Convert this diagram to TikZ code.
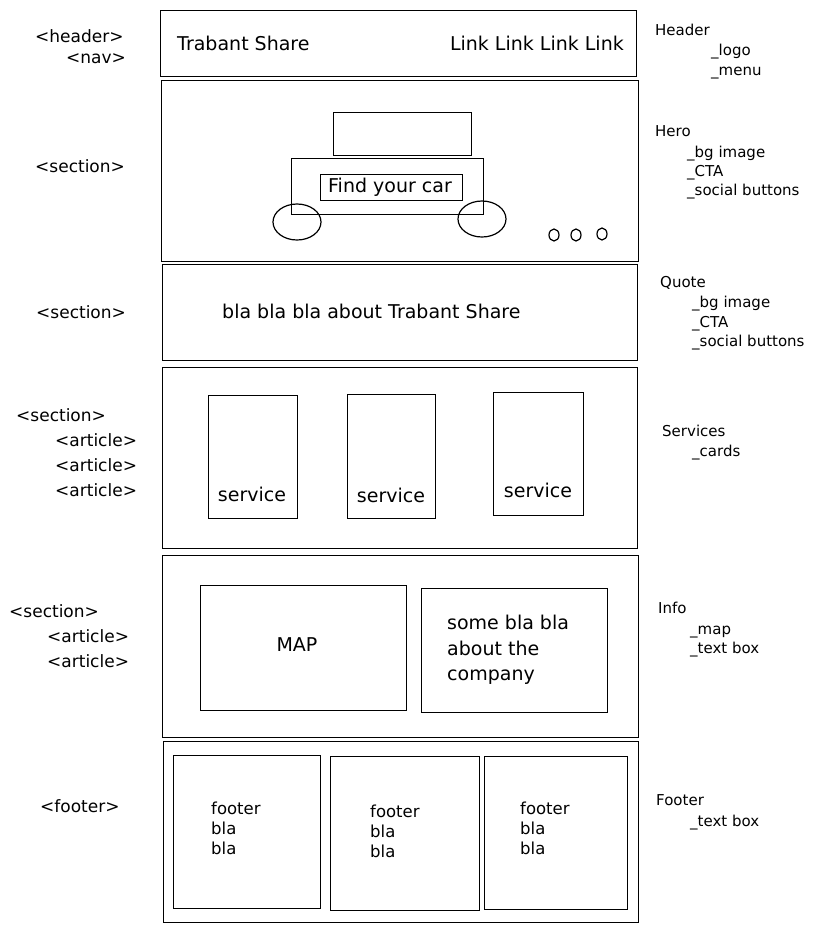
\documentclass[tikz,border=0pt]{standalone}
\usepackage{fontspec}
\setmainfont{DejaVu Sans}
\usetikzlibrary{shapes.geometric}
\begin{document}
\begin{tikzpicture}[x=1pt,y=-1pt,
  box/.style={draw, line width=1.2pt, inner sep=0pt, anchor=north west},
  big/.style={anchor=base west, inner sep=0pt, font=\fontsize{19}{23}\selectfont},
  tag/.style={anchor=base west, inner sep=0pt, font=\fontsize{17}{20}\selectfont},
  note/.style={anchor=base west, inner sep=0pt, font=\fontsize{15}{18}\selectfont},
  small/.style={anchor=base west, inner sep=0pt, font=\fontsize{16.5}{20}\selectfont},
  wheel/.style={draw, line width=1.2pt, ellipse, minimum width=48pt, minimum height=36pt, inner sep=0pt},
  dot/.style={draw, line width=1.2pt, ellipse, minimum width=10pt, minimum height=12pt, inner sep=0pt}]
\useasboundingbox (0,0) rectangle (828,932);

% ---------- header ----------
\node[box, minimum width=476pt, minimum height=66pt] (header) at (160,10) {};
\node[big] (logo) at (177,50) {Trabant Share};
\node[big, anchor=base east] (links) at (624,50) {Link Link Link Link};

% ---------- hero ----------
\node[box, minimum width=477pt, minimum height=181pt] (hero) at (161,80) {};
\node[box, minimum width=138pt, minimum height=43pt] (cartop) at (333,112) {};
\node[box, minimum width=192pt, minimum height=56pt] (carbody) at (291,158) {};
\node[box, minimum width=142pt, minimum height=26pt] (cta) at (320,174) {};
\node[big, anchor=center] (ctatext) at (390,187) {Find your car};
\node[wheel] (wheelL) at (297,222) {};
\node[wheel] (wheelR) at (482,219) {};
\node[dot] (d1) at (554,235) {};
\node[dot] (d2) at (576,235) {};
\node[dot] (d3) at (602,234) {};

% ---------- quote ----------
\node[box, minimum width=475pt, minimum height=96pt] (quote) at (162,264) {};
\node[big] (quotetext) at (222,318) {bla bla bla about Trabant Share};

% ---------- services ----------
\node[box, minimum width=475pt, minimum height=181pt] (services) at (162,367) {};
\node[box, minimum width=89pt, minimum height=123pt] (card1) at (208,395) {};
\node[box, minimum width=88pt, minimum height=124pt] (card2) at (347,394) {};
\node[box, minimum width=90pt, minimum height=123pt] (card3) at (493,392) {};
\node[big, anchor=base] (s1) at (252,501) {service};
\node[big, anchor=base] (s2) at (391,502) {service};
\node[big, anchor=base] (s3) at (538,497) {service};

% ---------- info ----------
\node[box, minimum width=476pt, minimum height=182pt] (info) at (162,555) {};
\node[box, minimum width=206pt, minimum height=125pt] (map) at (200,585) {};
\node[box, minimum width=186pt, minimum height=124pt] (textbox) at (421,588) {};
\node[big, anchor=base] (maptext) at (297,651) {MAP};
\node[big] (tb1) at (447,629) {some bla bla};
\node[big] (tb2) at (447,655) {about the};
\node[big] (tb3) at (447,680) {company};

% ---------- footer ----------
\node[box, minimum width=475pt, minimum height=181pt] (footer) at (163,741) {};
\node[box, minimum width=147pt, minimum height=153pt] (f1) at (173,755) {};
\node[box, minimum width=149pt, minimum height=154pt] (f2) at (330,756) {};
\node[box, minimum width=143pt, minimum height=153pt] (f3) at (484,756) {};
\node[small] (f1a) at (211,814) {footer};
\node[small] (f1b) at (211,834) {bla};
\node[small] (f1c) at (211,854) {bla};
\node[small] (f2a) at (370,817) {footer};
\node[small] (f2b) at (370,837) {bla};
\node[small] (f2c) at (370,857) {bla};
\node[small] (f3a) at (520,814) {footer};
\node[small] (f3b) at (520,834) {bla};
\node[small] (f3c) at (520,854) {bla};

% ---------- left tags ----------
\node[tag] (t1) at (35,42) {<header>};
\node[tag] (t2) at (66,63) {<nav>};
\node[tag] (t3) at (35,172) {<section>};
\node[tag] (t4) at (36,318) {<section>};
\node[tag] (t5) at (16,421) {<section>};
\node[tag] (t6) at (55,446) {<article>};
\node[tag] (t7) at (55,471) {<article>};
\node[tag] (t8) at (55,496) {<article>};
\node[tag] (t9) at (9,617) {<section>};
\node[tag] (t10) at (47,642) {<article>};
\node[tag] (t11) at (47,667) {<article>};
\node[tag] (t12) at (40,812) {<footer>};

% ---------- right notes ----------
\node[note] (n1) at (655,35) {Header};
\node[note] (n2) at (711,55) {\_logo};
\node[note] (n3) at (711,75) {\_menu};
\node[note] (n4) at (655,136) {Hero};
\node[note] (n5) at (687,157) {\_bg image};
\node[note] (n6) at (687,176) {\_CTA};
\node[note] (n7) at (687,195) {\_social buttons};
\node[note] (n8) at (660,287) {Quote};
\node[note] (n9) at (692,307) {\_bg image};
\node[note] (n10) at (692,327) {\_CTA};
\node[note] (n11) at (692,346) {\_social buttons};
\node[note] (n12) at (662,436) {Services};
\node[note] (n13) at (692,456) {\_cards};
\node[note] (n14) at (658,613) {Info};
\node[note] (n15) at (690,634) {\_map};
\node[note] (n16) at (690,653) {\_text box};
\node[note] (n17) at (656,805) {Footer};
\node[note] (n18) at (690,826) {\_text box};
\end{tikzpicture}
\end{document}
